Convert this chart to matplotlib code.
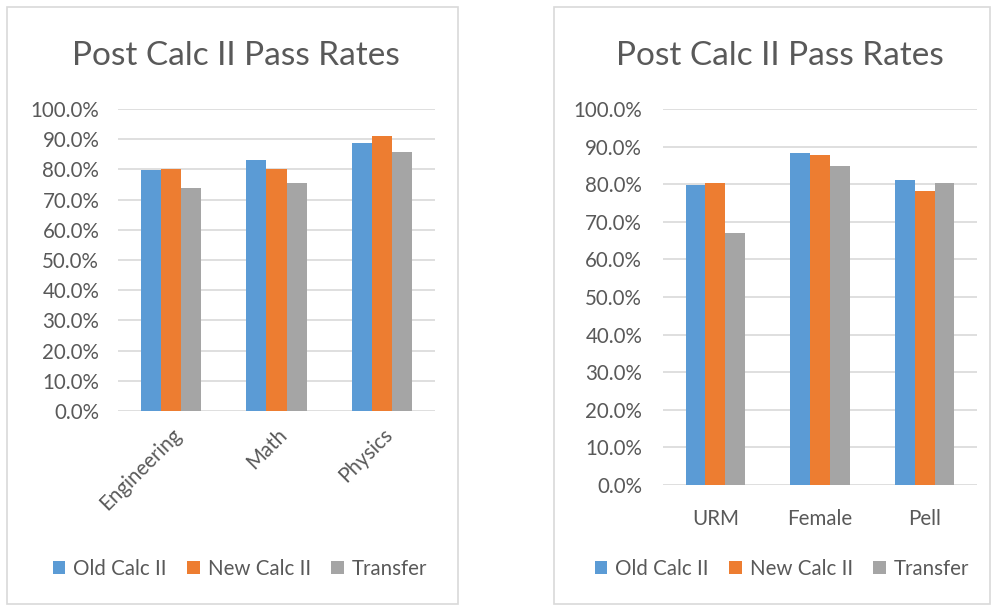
import numpy as np
import matplotlib
matplotlib.use("Agg")
import matplotlib.pyplot as plt
from matplotlib.patches import Rectangle
from matplotlib.ticker import PercentFormatter

# data (pass rate, %)
series = ["Old Calc II", "New Calc II", "Transfer"]
colors = ["#5B9BD5", "#ED7D31", "#A5A5A5"]

major_cats = ["Engineering", "Math", "Physics"]
major_old = [79.8, 83.0, 88.8]
major_new = [80.0, 80.2, 91.2]
major_transfer = [73.9, 75.5, 85.7]

group_cats = ["URM", "Female", "Pell"]
group_old = [79.7, 88.3, 81.2]
group_new = [80.2, 87.8, 78.2]
group_transfer = [66.9, 84.8, 80.2]

yticks = np.arange(0, 101, 10)
title = "Post Calc II Pass Rates"

plt.rcParams["font.family"] = ["Lato", "DejaVu Sans"]
txt = "#595959"
grid = "#D9D9D9"
fs = 14.8

W, H = 993, 609
fig = plt.figure(figsize=(W / 100, H / 100), dpi=100)


def px(x0, y0, x1, y1):
    # pixel box (top-left origin) -> figure fraction [l, b, w, h]
    return [x0 / W, 1 - y1 / H, (x1 - x0) / W, (y1 - y0) / H]


def panel(frame, axbox, cats, vals, title_xy, legend_xy, rotate, ypad):
    fig.patches.append(Rectangle(frame[:2], frame[2], frame[3], transform=fig.transFigure,
                                 fill=False, edgecolor=grid, linewidth=1.2))
    ax = fig.add_axes(axbox)
    x = np.arange(len(cats))
    w = 0.19
    for i, (name, v) in enumerate(zip(series, vals)):
        ax.bar(x + (i - 1) * w, v, w, color=colors[i], label=name, zorder=3)
    ax.set_xlim(-0.5, len(cats) - 0.5)
    ax.set_ylim(0, 100)
    ax.set_yticks(yticks)
    ax.yaxis.set_major_formatter(PercentFormatter(decimals=1))
    ax.yaxis.grid(True, color=grid, linewidth=1.2, zorder=0)
    for s in ax.spines.values():
        s.set_visible(False)
    ax.tick_params(length=0, colors=txt, labelsize=fs)
    ax.tick_params(axis="y", pad=ypad)
    ax.set_xticks(x)
    if rotate:
        ax.set_xticklabels(cats, rotation=45, ha="right", rotation_mode="anchor")
        ax.tick_params(axis="x", pad=10)
    else:
        ax.set_xticklabels(cats)
        ax.tick_params(axis="x", pad=17)
    fig.text(title_xy[0] / W, 1 - title_xy[1] / H, title, ha="center", va="baseline",
             fontsize=24, color=txt)
    h, l = ax.get_legend_handles_labels()
    fig.legend(h, l, loc="center", bbox_to_anchor=(legend_xy[0] / W, 1 - legend_xy[1] / H),
               ncol=3, frameon=False, fontsize=fs, labelcolor=txt,
               handlelength=0.6, handleheight=0.6, handletextpad=0.4, columnspacing=1.0)
    return ax


panel(px(7, 7, 458, 604), px(118, 109, 435, 411), major_cats,
      [major_old, major_new, major_transfer], (236, 65), (240, 569), True, 13.5)
panel(px(554, 7, 990, 604), px(663, 109, 977, 485), group_cats,
      [group_old, group_new, group_transfer], (780, 65), (782, 569), False, 15)

fig.savefig("out.png", dpi=100)
